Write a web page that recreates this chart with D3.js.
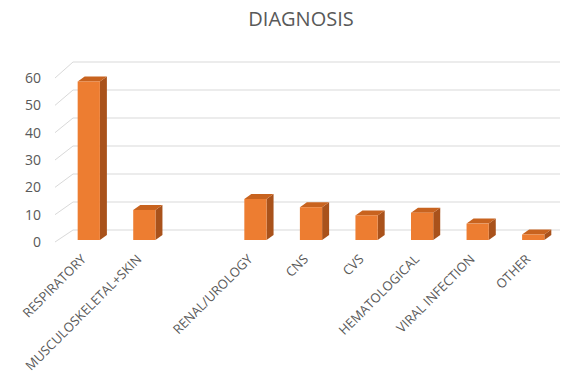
<!DOCTYPE html>
<html>
<head>
<meta charset="utf-8">
<script src="https://cdn.jsdelivr.net/npm/d3@7"></script>
<style>
  body { margin: 0; background: #fff; }
  text { font-family: "Open Sans", sans-serif; fill: #595959; }
</style>
</head>
<body>
<svg id="chart"></svg>
<script>
// chart data
var categories = ["RESPIRATORY", "MUSCULOSKELETAL+SKIN", "", "RENAL/UROLOGY", "CNS", "CVS", "HEMATOLOGICAL", "VIRAL INFECTION", "OTHER"];
var values = [58, 11, null, 15, 12, 9, 10, 6, 2];
var yTicks = [0, 10, 20, 30, 40, 50, 60];

var width = 568, height = 391;
var depth = { dx: 18, dy: -11 };     // floor / wall depth
var barDepth = { dx: 7, dy: -5 };    // bar 3d offset

var svg = d3.select("#chart")
            .attr("width", width)
            .attr("height", height);

// title
svg.append("text")
   .attr("x", 301)
   .attr("y", 26)
   .attr("text-anchor", "middle")
   .style("font-size", "20px")
   .text("DIAGNOSIS");

var xScale = d3.scaleBand()
               .domain(categories.map((d, i) => i))
               .range([61, 561])
               .paddingInner(0.6)
               .paddingOuter(0.3);

// front plane (bars, labels) and back wall (gridlines)
var yFront = d3.scaleLinear().domain([0, 60]).range([240, 76]);
var yBack = d3.scaleLinear().domain([0, 60]).range([230, 62]);

// back wall gridlines
svg.append("g")
   .selectAll("line")
   .data(yTicks)
   .enter()
   .append("line")
   .attr("x1", 55 + depth.dx)
   .attr("x2", 560)
   .attr("y1", d => yBack(d))
   .attr("y2", d => yBack(d))
   .attr("stroke", "#d9d9d9")
   .attr("stroke-width", 1);

// left wall diagonals
svg.append("g")
   .selectAll("line")
   .data(yTicks)
   .enter()
   .append("line")
   .attr("x1", 55)
   .attr("y1", d => yFront(d) + 2)
   .attr("x2", 55 + depth.dx)
   .attr("y2", d => yBack(d))
   .attr("stroke", "#d9d9d9")
   .attr("stroke-width", 1);

// y tick labels
svg.append("g")
   .selectAll("text")
   .data(yTicks)
   .enter()
   .append("text")
   .attr("x", 41)
   .attr("y", d => yFront(d) + 2)
   .attr("dy", "0.35em")
   .attr("text-anchor", "end")
   .style("font-size", "14px")
   .text(d => d);

// bars
var bars = svg.append("g")
              .selectAll("g")
              .data(values.map((v, i) => ({ i: i, v: v })).filter(d => d.v != null))
              .enter()
              .append("g");

var bw = xScale.bandwidth();

// side face
bars.append("path")
    .attr("fill", "#a9521b")
    .attr("d", d => {
        var x = xScale(d.i) + bw, y0 = yFront(0), y1 = yFront(d.v);
        return `M${x},${y0}L${x + barDepth.dx},${y0 + barDepth.dy}L${x + barDepth.dx},${y1 + barDepth.dy}L${x},${y1}Z`;
    });

// top face
bars.append("path")
    .attr("fill", "#c8631f")
    .attr("d", d => {
        var x = xScale(d.i), y1 = yFront(d.v);
        return `M${x},${y1}L${x + barDepth.dx},${y1 + barDepth.dy}L${x + bw + barDepth.dx},${y1 + barDepth.dy}L${x + bw},${y1}Z`;
    });

// front face
bars.append("rect")
    .attr("x", d => xScale(d.i))
    .attr("y", d => yFront(d.v))
    .attr("width", bw)
    .attr("height", d => yFront(0) - yFront(d.v))
    .attr("fill", "#ed7d31");

// x labels
svg.append("g")
   .selectAll("text")
   .data(categories.map((c, i) => ({ i: i, c: c })).filter(d => d.c !== ""))
   .enter()
   .append("text")
   .attr("text-anchor", "end")
   .attr("transform", d => `translate(${xScale(d.i) + bw / 2 - 2},${260}) rotate(-45)`)
   .style("font-size", "13px")
   .text(d => d.c);
</script>
</body>
</html>
